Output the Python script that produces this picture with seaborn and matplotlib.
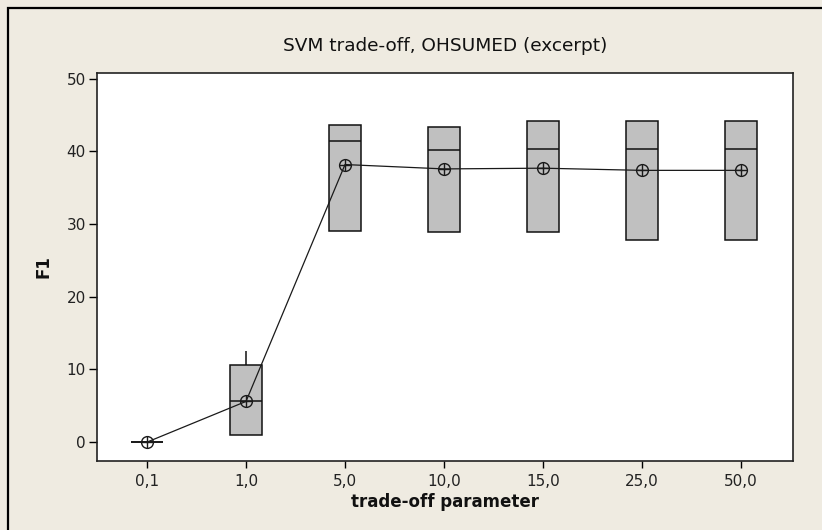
import numpy as np
import pandas as pd
import matplotlib
matplotlib.use("Agg")
import matplotlib.pyplot as plt
from matplotlib.patches import Rectangle
import seaborn as sns

# ---- data ----
params = ["0,1", "1,0", "5,0", "10,0", "15,0", "25,0", "50,0"]
f1_min = [0.0, 1.0, 29.1, 28.9, 28.9, 27.8, 27.8]
f1_q1 = [0.0, 1.0, 29.1, 28.9, 28.9, 27.8, 27.8]
f1_median = [0.0, 5.6, 41.4, 40.2, 40.4, 40.4, 40.4]
f1_q3 = [0.0, 10.6, 43.7, 43.4, 44.2, 44.2, 44.2]
f1_max = [0.0, 12.6, 43.7, 43.4, 44.2, 44.2, 44.2]
f1_mean = [0.0, 5.6, 38.2, 37.6, 37.7, 37.4, 37.4]
y_ticks = [0, 10, 20, 30, 40, 50]

title = "SVM trade-off, OHSUMED (excerpt)"
xlabel = "trade-off parameter"
ylabel = "F1"

# five-number summary table per group (quartiles land exactly on these values)
rows = []
for p, a, b, c, d, e in zip(params, f1_min, f1_q1, f1_median, f1_q3, f1_max):
    for v in (a, b, c, d, e):
        rows.append({"param": p, "F1": v})
df = pd.DataFrame(rows)

sns.set_style("white")
plt.rcParams["font.family"] = ["DejaVu Sans"]

BG = "#EFEBE1"
W, H = 822, 530
fig = plt.figure(figsize=(W / 100, H / 100), dpi=100, facecolor=BG)
ax = fig.add_axes([97 / W, 1 - 461 / H, (793 - 97) / W, (461 - 73) / H])
ax.set_facecolor("white")

sns.boxplot(data=df, x="param", y="F1", order=params, ax=ax,
            color="#C0C0C0", saturation=1, width=0.33, whis=(0, 100),
            linecolor="#111111", linewidth=1.1, fliersize=0,
            capprops={"linewidth": 0})

sns.pointplot(x=params, y=f1_mean, order=params, ax=ax, color="#1a1a1a",
              markers="o", linestyles="-", errorbar=None,
              linewidth=0.9, markersize=8.5, markeredgewidth=1.0,
              markerfacecolor="none", zorder=5)
sns.pointplot(x=params, y=f1_mean, order=params, ax=ax, color="#1a1a1a",
              markers="+", linestyles="none", errorbar=None,
              markersize=8.5, markeredgewidth=1.0, zorder=6)

ax.set_xlim(-0.505, 6.525)
ax.set_ylim(-2.6, 50.8)
ax.set_yticks(y_ticks)
ax.set_yticklabels([str(t) for t in y_ticks])

for s in ax.spines.values():
    s.set_visible(True)
    s.set_color("#222222")
    s.set_linewidth(1.2)

ax.tick_params(axis="x", direction="out", length=5, width=1, color="black",
               labelsize=11, pad=4, labelcolor="#222222", bottom=True)
ax.tick_params(axis="y", direction="out", length=6, width=1, color="black",
               labelsize=11, pad=2, labelcolor="#222222", left=True)

ax.set_xlabel(xlabel, fontsize=12, fontweight="bold", color="#111111")
ax.set_ylabel(ylabel, fontsize=12, fontweight="bold", color="#111111")
ax.xaxis.set_label_coords(0.5, (461 - 502) / (461 - 73))
ax.xaxis.label.set_va("center")
ax.yaxis.set_label_coords((43 - 97) / (793 - 97), 0.5)
ax.yaxis.label.set_va("center")

fig.text(445 / W, 1 - 46 / H, title, ha="center", va="center",
         fontsize=13.3, color="#111111")

# outer frame of the graph window
fig.patches.append(Rectangle((7.5 / W, -0.02), 1.05, 1 - 8 / H + 0.02,
                             transform=fig.transFigure, fill=False,
                             edgecolor="black", linewidth=1.6))

fig.savefig("out.png", dpi=100, facecolor=BG)
